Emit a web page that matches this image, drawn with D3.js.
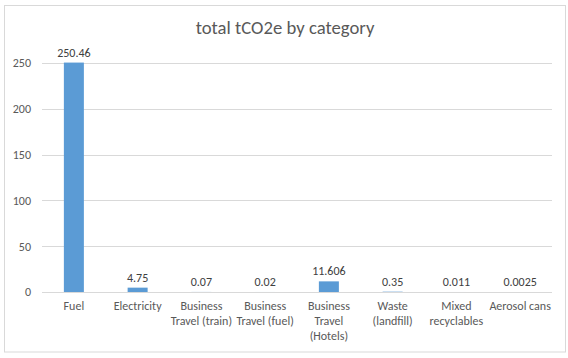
<!DOCTYPE html>
<html><head><meta charset="utf-8">
<script src="https://cdn.jsdelivr.net/npm/d3@7"></script>
<style>
html,body{margin:0;padding:0;background:#fff;}
svg{display:block;}
text{font-family:Carlito, Lato, "Open Sans", sans-serif;}
</style></head>
<body>
<svg id="chart" width="568" height="358"></svg>
<script>
const categories = [["Fuel"],["Electricity"],["Business","Travel (train)"],["Business","Travel (fuel)"],["Business","Travel","(Hotels)"],["Waste","(landfill)"],["Mixed","recyclables"],["Aerosol cans"]];
const values = [250.46, 4.75, 0.07, 0.02, 11.606, 0.35, 0.011, 0.0025];
const valueLabels = ["250.46","4.75","0.07","0.02","11.606","0.35","0.011","0.0025"];
const yTicks = [0, 50, 100, 150, 200, 250];
const title = "total tCO2e by category";

(function(){
const svg = d3.select("#chart");
svg.append("rect").attr("x",4.5).attr("y",5.5).attr("width",561).attr("height",346.5)
  .attr("fill","#fff").attr("stroke","#d9d9d9").attr("stroke-width",1);

const mLeft = 42, mRight = 552, mTop = 63, mBottom = 292;
const x = d3.scaleBand().domain(d3.range(categories.length)).range([mLeft, mRight]).padding(0);
const y = d3.scaleLinear().domain([0, 250]).range([mBottom, mTop]);

svg.append("text").attr("x", 285).attr("y", 34).attr("text-anchor","middle")
  .attr("fill","#595959").attr("font-size","18.7px").text(title);

// gridlines
svg.append("g").selectAll("line").data(yTicks).join("line")
  .attr("x1", mLeft).attr("x2", mRight)
  .attr("y1", d => Math.round(y(d)) + 0.5).attr("y2", d => Math.round(y(d)) + 0.5)
  .attr("stroke","#d9d9d9").attr("stroke-width",1);

// y axis labels
const yAxis = d3.axisLeft(y).tickValues(yTicks).tickSize(0).tickPadding(0);
const gy = svg.append("g").attr("transform","translate(31,0)").call(yAxis);
gy.select(".domain").remove();
gy.selectAll("text").attr("fill","#595959").attr("font-size","12px").attr("font-family","Carlito, Lato, sans-serif");

// bars
const barW = 20;
svg.append("g").selectAll("rect").data(values).join("rect")
  .attr("x", (d,i) => x(i) + x.bandwidth()/2 - barW/2)
  .attr("y", d => y(d))
  .attr("width", barW)
  .attr("height", d => mBottom - y(d))
  .attr("fill","#5b9bd5");

// data labels
svg.append("g").selectAll("text").data(values).join("text")
  .attr("x", (d,i) => x(i) + x.bandwidth()/2)
  .attr("y", d => y(d) - 6)
  .attr("text-anchor","middle").attr("fill","#404040").attr("font-size","12px")
  .text((d,i) => valueLabels[i]);

// x labels
const xl = svg.append("g").selectAll("text").data(categories).join("text")
  .attr("x", (d,i) => x(i) + x.bandwidth()/2)
  .attr("y", 310)
  .attr("text-anchor","middle").attr("fill","#595959").attr("font-size","12px");
xl.selectAll("tspan").data(d => d).join("tspan")
  .attr("x", function(){ return d3.select(this.parentNode).attr("x"); })
  .attr("dy", (d,j) => j === 0 ? 0 : 15)
  .text(d => d);
})();
</script>
</body></html>
